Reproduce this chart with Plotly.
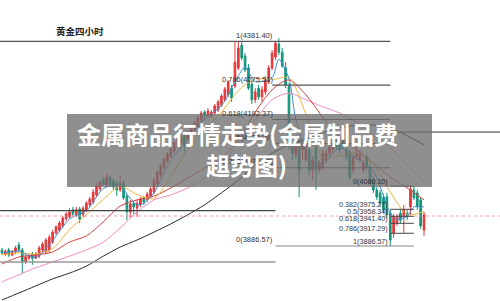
import plotly.graph_objects as go

# ---------------- data ----------------
opens = [3877,3867,3877,3865,3872,3889,3877,3848,3857,3867,3857,3862,3877,3872,3877,3896,3918,3925,3935,3952,
         3957,3974,3962,3976,3962,3974,3986,3993,4010,4024,4046,4034,4053,4044,4036,4022,4039,4007,3969,3990,
         3978,3986,4003,3998,4007,4017,4036,4058,4075,4092,4104,4116,4128,4150,4155,4145,4157,4169,4177,4191,
         4210,4201,4201,4208,4215,4227,4240,4252,4268,4273,4317,4372,4346,4317,4278,4240,4268,4247,4259,4283,
         4317,4343,4375,4355,4317,4273,4126,4107,4143,4119,4094,4119,4070,4136,4070,4077,4094,4111,4119,4143,
         4136,4143,4119,4111,4070,4102,4094,4070,4102,4077,4046,4022,4015,4005,4005,3966,3918,3942,3966,3957,
         3966,3981,4022,4015,3998,3925]
closes = [3870,3874,3865,3872,3882,3877,3848,3860,3862,3857,3867,3882,3891,3901,3908,3920,3933,3942,3954,3964,
          3969,3964,3974,3952,3978,3990,4000,4017,4032,4041,4036,4053,4036,4029,4022,4039,4003,3969,3988,3981,
          3990,4000,3993,4012,4024,4046,4065,4080,4097,4109,4121,4136,4148,4136,4131,4162,4174,4184,4196,4208,
          4201,4213,4210,4225,4235,4249,4266,4283,4244,4331,4365,4341,4312,4268,4240,4259,4247,4264,4288,4317,
          4353,4377,4355,4322,4276,4126,4111,4131,4070,4136,4143,4070,4094,4070,4087,4111,4111,4126,4136,4126,
          4119,4126,4102,4053,4102,4111,4111,4087,4077,4039,4022,4005,3990,3974,3962,3901,3957,3957,3949,3974,
          3957,4024,4003,3981,3935,3962]
highs = [3882,3879,3882,3877,3887,3896,3882,3865,3867,3872,3872,3887,3896,3906,3913,3925,3937,3947,3959,3969,
         3978,3981,3981,3981,3983,3995,4005,4024,4039,4046,4053,4063,4058,4051,4046,4056,4046,4012,3998,3995,
         3998,4005,4007,4017,4029,4051,4070,4085,4102,4114,4126,4140,4153,4157,4162,4167,4179,4189,4201,4213,
         4215,4220,4215,4230,4240,4254,4271,4288,4276,4380,4382,4382,4353,4326,4288,4268,4276,4273,4297,4324,
         4360,4382,4389,4365,4331,4281,4138,4143,4150,4143,4155,4128,4102,4143,4094,4119,4119,4133,4143,4150,
         4143,4150,4128,4119,4107,4124,4119,4094,4109,4085,4053,4029,4022,4012,4015,3974,3964,3964,3974,3986,
         3974,4032,4032,4022,4003,3969]
lows = [3865,3862,3860,3862,3867,3872,3821,3843,3853,3841,3855,3857,3872,3867,3870,3891,3913,3920,3930,3947,
        3952,3959,3957,3942,3957,3969,3981,3988,4005,4019,4032,4029,4029,4022,4007,4017,3998,3949,3954,3964,
        3957,3981,3986,3993,4003,4012,4032,4053,4070,4087,4099,4111,4124,4119,4111,4140,4153,4165,4172,4186,
        4191,4196,4196,4203,4210,4223,4235,4247,4235,4268,4312,4336,4307,4264,4230,4232,4240,4235,4252,4278,
        4312,4336,4348,4317,4268,4119,4094,4099,4005,4094,4090,4058,4046,4022,4063,4070,4087,4104,4111,4119,
        4111,4119,4094,4046,4063,4094,4087,4063,4070,4032,4015,3998,3983,3966,3954,3887,3906,3935,3942,3918,
        3949,3962,3998,3974,3928,3911]
candle_idx = list(range(len(closes)))

ma_fast_idx = [0,5,10,15,20,25,30,35,37,40,42,45,50,55,60,65,70,72,75,80,82,85,87,90,92,95,100,105,110,115,117,120,122,125]
ma_fast = [3870,3874,3859,3900,3952,3972,4025,4036,4012,3986,3990,4015,4094,4143,4193,4226,4298,4319,4284,4294,4338,
           4291,4193,4118,4103,4086,4124,4099,4067,3966,3950,3959,3981,3981]
ma_idx = [0,5,10,15,20,25,30,35,40,45,50,55,60,65,70,75,80,85,90,95,100,105,110,115,120,125]
ma_mid = [3865,3870,3867,3880,3926,3962,3999,4031,4011,4001,4055,4119,4168,4210,4262,4291,4289,4293,4205,4102,
          4105,4112,4083,4017,3963,3970]
ma_red = [3843,3860,3865,3872,3896,3911,3945,3983,3998,4007,4027,4051,4075,4099,4143,4210,4264,4288,4252,4198,
          4150,4119,4087,4053,4027,3998]
ma_pink = [3800,3817,3834,3848,3862,3877,3896,3930,3969,3998,4010,4027,4051,4082,4136,4191,4240,4256,4240,4223,
           4208,4186,4155,4124,4082,4041]
ma_long = [3756,3773,3790,3807,3821,3838,3862,3884,3901,3920,3940,3962,3986,4015,4046,4082,4111,4131,4145,4160,
           4172,4179,4179,4172,4153,4131]

left_fib_labels = ["1(4381.40)", "0.786(4275.51)", "0.618(4192.37)", "0.5(4133.99)", "0.382(4075.60)", "0(3886.57)"]
left_fib_prices = [4381.40, 4275.51, 4192.37, 4133.99, 4075.60, 3886.57]
right_fib_labels = ["0(4080.10)", "0.382(3975.27)", "0.5(3958.34)", "0.618(3941.40)", "0.786(3917.29)", "1(3886.57)"]
right_fib_prices = [4031.5, 3975.27, 3958.34, 3941.40, 3917.29, 3886.57]
support_prices = [3972.0, 3848.0]
resist_price = 4162.0
last_price = 3959.0

title_small = "黄金四小时"
overlay_lines = ["金属商品行情走势(金属制品费", "趄势图)"]

# ---------------- figure ----------------
X0, X1 = -0.592, 147.5
Y0, Y1 = 3753.6, 4481.2

fig = go.Figure()

def add_line(xs, ys, color, width=1.0):
    fig.add_trace(go.Scatter(x=xs, y=ys, mode="lines", line=dict(color=color, width=width, shape="spline", smoothing=0.8),
                             hoverinfo="skip", showlegend=False))

add_line(ma_idx, ma_long, "#2a2a2a", 1.0)
add_line(ma_idx, ma_pink, "#ef8cc4", 1.0)
add_line(ma_idx, ma_red, "#d8403c", 1.0)
add_line(ma_idx, ma_mid, "#f3b43c", 1.0)
add_line(ma_fast_idx, ma_fast, "#3a8fd8", 1.0)

fig.add_trace(go.Candlestick(
    x=candle_idx, open=opens, high=highs, low=lows, close=closes,
    increasing=dict(line=dict(color="#e5383b", width=1), fillcolor="#e5383b"),
    decreasing=dict(line=dict(color="#13957a", width=1), fillcolor="#13957a"),
    whiskerwidth=0, showlegend=False, hoverinfo="skip"))

shapes = []
ann = []
left_font = dict(family="Liberation Sans, Arial", size=7.5, color="#333")
right_font = dict(family="Liberation Sans, Arial", size=7.2, color="#333")

# long horizontal lines
shapes.append(dict(type="line", xref="x", yref="y", x0=X0, x1=115, y0=left_fib_prices[0], y1=left_fib_prices[0],
                   line=dict(color="#555", width=1.2)))
shapes.append(dict(type="line", xref="x", yref="y", x0=X0, x1=81, y0=support_prices[0], y1=support_prices[0],
                   line=dict(color="#444", width=1.2)))
shapes.append(dict(type="line", xref="x", yref="y", x0=X0, x1=81, y0=support_prices[1], y1=support_prices[1],
                   line=dict(color="#999", width=1.6)))
shapes.append(dict(type="line", xref="x", yref="y", x0=117, x1=X1, y0=resist_price, y1=resist_price,
                   line=dict(color="#333", width=1)))
shapes.append(dict(type="line", xref="x", yref="y", x0=X0, x1=X1, y0=last_price, y1=last_price,
                   line=dict(color="#f08a9a", width=0.8, dash="dot")))

# left fibonacci
for lab, p in zip(left_fib_labels[1:], left_fib_prices[1:]):
    last = p == left_fib_prices[-1]
    shapes.append(dict(type="line", xref="x", yref="y", x0=81 if last else 80, x1=122 if last else 115,
                       y0=p, y1=p, line=dict(color="#888" if last else "#555", width=1.1)))
for lab, p in zip(left_fib_labels, left_fib_prices):
    ann.append(dict(x=80.8, y=p, xref="x", yref="y", text=lab, showarrow=False, xanchor="right", yanchor="bottom",
                    yshift=-0.5, font=left_font))

# right fibonacci
for lab, p in zip(right_fib_labels[:-1], right_fib_prices[:-1]):
    shapes.append(dict(type="line", xref="x", yref="y", x0=115, x1=122, y0=p, y1=p,
                       line=dict(color="#444", width=1)))
for lab, p in zip(right_fib_labels, right_fib_prices):
    ann.append(dict(x=115.0, y=p, xref="x", yref="y", text=lab, showarrow=False, xanchor="right", yanchor="bottom",
                    yshift=-2, font=right_font))

# gray overlay
shapes.append(dict(type="rect", xref="paper", yref="paper", x0=67/500, x1=432/500, y0=1-187/301, y1=1-114/301,
                   fillcolor="rgba(112,112,112,0.78)", line=dict(width=0), layer="above"))

ann.append(dict(x=106/500, y=1-31/301, xref="paper", yref="paper", text="<b>" + title_small + "</b>", showarrow=False,
                xanchor="right", yanchor="middle", font=dict(family="Noto Sans CJK SC", size=9.5, color="#222")))
ann.append(dict(x=237/500, y=1-133/301, xref="paper", yref="paper", text="<b>" + overlay_lines[0] + "</b>",
                showarrow=False, xanchor="center", yanchor="middle",
                font=dict(family="Noto Sans CJK SC", size=24, color="white")))
ann.append(dict(x=246/500, y=1-164/301, xref="paper", yref="paper", text="<b>" + overlay_lines[1] + "</b>",
                showarrow=False, xanchor="center", yanchor="middle",
                font=dict(family="Noto Sans CJK SC", size=24, color="white")))

fig.update_layout(
    width=500, height=301, margin=dict(l=0, r=0, t=0, b=0),
    paper_bgcolor="white", plot_bgcolor="white",
    xaxis=dict(range=[X0, X1], visible=False, rangeslider=dict(visible=False), fixedrange=True),
    yaxis=dict(range=[Y0, Y1], visible=False, fixedrange=True),
    shapes=shapes, annotations=ann, showlegend=False,
)

fig.write_html("out.html")
